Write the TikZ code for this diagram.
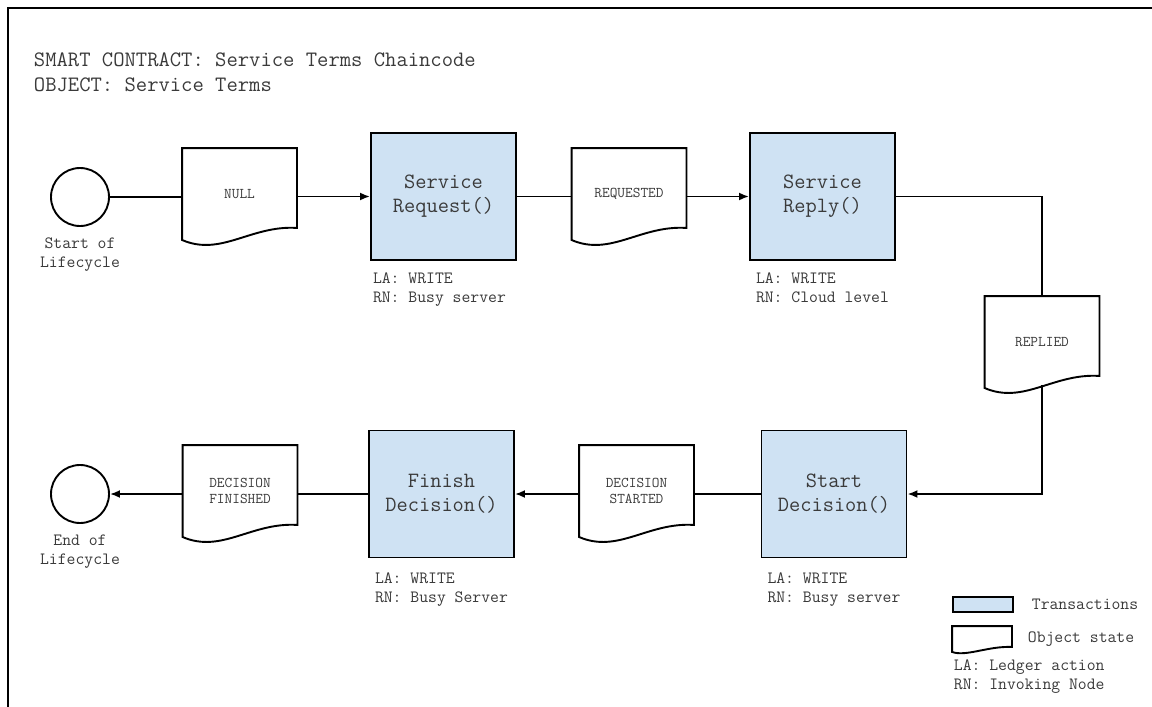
\documentclass[tikz,border=0pt]{standalone}
\usetikzlibrary{arrows.meta,positioning}
\definecolor{txfill}{HTML}{CFE2F3}
\definecolor{inkgray}{HTML}{3A3A3A}
% outline of an object state (page with a wavy foot)
\newcommand{\docoutline}[1]{%
  \draw (#1.north west) -- (#1.north east) -- ([yshift=12pt]#1.south east)
    .. controls ([xshift=-46pt,yshift=15pt]#1.south east) and ([xshift=39pt,yshift=-17pt]#1.south west) .. (#1.south west) -- cycle;}
\begin{document}
\begin{tikzpicture}[x=1pt,y=-1pt,line width=1.9pt,
  txbox/.style={draw,fill=txfill,minimum width=145pt,minimum height=127pt,align=center,text=inkgray,font=\ttfamily\fontsize{21.8}{24}\selectfont},
  statedoc/.style={minimum width=113pt,minimum height=90pt,align=center,text=inkgray,font=\ttfamily\fontsize{14.9}{16}\selectfont},
  endpoint/.style={draw,circle,minimum size=58pt,inner sep=0pt},
  note/.style={align=left,inner sep=0pt,text=inkgray,font=\ttfamily\fontsize{17.2}{19}\selectfont},
  flow/.style={-{Latex[length=10pt,width=8pt]}}]
    \useasboundingbox (0,0) rectangle (1152,707);
    \draw (1152,8) -- (8,8) -- (8,707);
    \node[note,anchor=north west,font=\ttfamily\fontsize{22}{25}\selectfont] (title) at (33,52) {SMART CONTRACT: Service Terms Chaincode\\OBJECT: Service Terms};
    % top row
    \node[endpoint] (start) at (80,197) {};
    \node[note,align=center,below=10pt of start] (start-lbl) {Start of\\Lifecycle};
    \node[statedoc] (null) at (239.5,194) {NULL};
    \node[txbox] (req) at (443.5,196.5) {Service\\Request()};
    \node[statedoc] (requested) at (629,194) {REQUESTED};
    \node[txbox] (reply) at (822.5,196.5) {Service\\Reply()};
    \node[statedoc] (replied) at (1042,342) {REPLIED};
    \node[note,anchor=north west] (req-note) at ([xshift=2pt,yshift=-11pt]req.south west) {LA: WRITE\\RN: Busy server};
    \node[note,anchor=north west] (reply-note) at ([xshift=6pt,yshift=-11pt]reply.south west) {LA: WRITE\\RN: Cloud level};
    % bottom row
    \node[endpoint] (end) at (80,494) {};
    \node[note,align=center,below=10pt of end] (end-lbl) {End of\\Lifecycle};
    \node[statedoc] (finished) at (240,491) {DECISION\\FINISHED};
    \node[txbox] (findec) at (441.5,494) {Finish\\Decision()};
    \node[statedoc] (started) at (636.5,491) {DECISION\\STARTED};
    \node[txbox] (startdec) at (834,494) {Start\\Decision()};
    \node[note,anchor=north west] (findec-note) at ([xshift=6pt,yshift=-13pt]findec.south west) {LA: WRITE\\RN: Busy Server};
    \node[note,anchor=north west] (startdec-note) at ([xshift=6pt,yshift=-13pt]startdec.south west) {LA: WRITE\\RN: Busy server};
    \foreach \d in {null,requested,replied,finished,started} {\docoutline{\d}}
    % flow
    \draw (start.east) -- (start.east -| null.west);
    \draw[flow] (req.west -| null.east) -- (req.west);
    \draw (req.east) -- (req.east -| requested.west);
    \draw[flow] (reply.west -| requested.east) -- (reply.west);
    \draw (reply.east) -| (replied.north);
    \draw[flow] ([yshift=3pt]replied.south) |- (startdec.east);
    \draw (startdec.west) -- (startdec.west -| started.east);
    \draw[flow] (findec.east -| started.west) -- (findec.east);
    \draw (findec.west) -- (findec.west -| finished.east);
    \draw[flow] (end.east -| finished.west) -- (end.east);
    % legend
    \node[draw,fill=txfill,minimum width=60pt,minimum height=15pt,inner sep=0pt] (key-tx) at (983,604.5) {};
    \node[note,right=17pt of key-tx] (key-tx-lbl) {Transactions};
    \node[minimum width=58pt,minimum height=24pt,inner sep=0pt] (key-doc) at (982,639) {};
    \draw (key-doc.north west) -- (key-doc.north east) -- ([yshift=5pt]key-doc.south east)
      .. controls ([xshift=-24pt,yshift=6pt]key-doc.south east) and ([xshift=14pt,yshift=-5pt]key-doc.south west) .. (key-doc.south west) -- cycle;
    \node[note,right=15pt of key-doc] (key-doc-lbl) {Object state};
    \node[note,anchor=north west] (key-note) at (953,659) {LA: Ledger action\\RN: Invoking Node};
\end{tikzpicture}
\end{document}
